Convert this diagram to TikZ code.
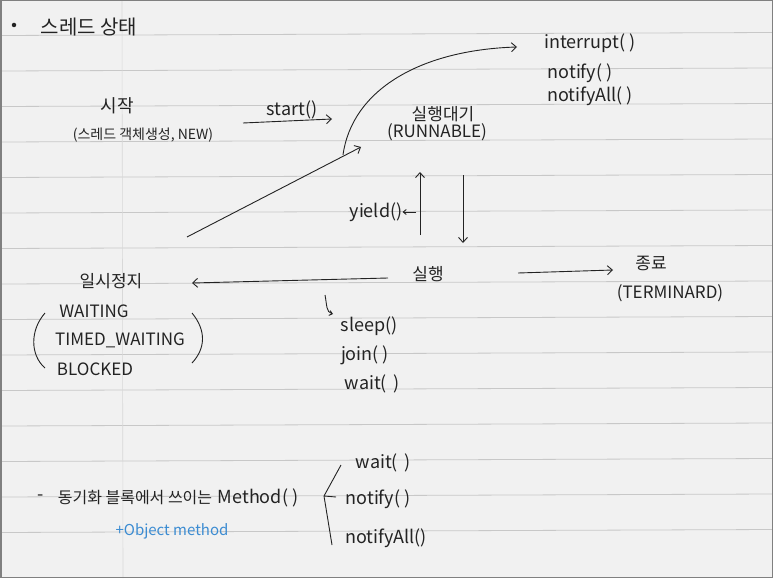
\documentclass[tikz,border=0pt]{standalone}
\usepackage{fontspec}
\setmainfont{Noto Sans CJK KR}
\usetikzlibrary{arrows.meta}
\definecolor{paper}{RGB}{241,241,241}
\definecolor{rulecol}{RGB}{200,200,200}
\definecolor{ink}{RGB}{35,35,35}
\definecolor{bluepen}{RGB}{60,140,210}
\begin{document}
\begin{tikzpicture}[x=1pt,y=-1pt,
  txt/.style={text=ink,inner sep=0pt,font=\fontsize{18}{20}\selectfont},
  caps/.style={text=ink,inner sep=0pt,font=\fontsize{17}{19}\selectfont},
  kor/.style={text=ink,inner sep=0pt,font=\fontsize{17}{19}\selectfont},
  kors/.style={text=ink,inner sep=0pt,font=\fontsize{14}{16}\selectfont},
  pen/.style={draw=ink,line width=0.9pt},
  conn/.style={pen,-{Straight Barb[length=5pt,width=9pt]}}]
\fill[paper] (0,0) rectangle (773,578);
\useasboundingbox (0,0) rectangle (773,578);
\foreach \k in {0,...,14}
  \draw[rulecol,line width=0.8pt] (0,{35.5+35.5*\k}) -- (773,{32.5+35.5*\k});
\draw[rulecol!70,line width=0.6pt] (122,0) -- (123,578);
\draw[gray,line width=1.5pt] (0.75,0.75) rectangle (772.25,577.25);

% title
\node[circle,fill=ink,inner sep=0pt,minimum size=4.5pt] (bullet) at (14,25) {};
\node[kor,font=\fontsize{20}{22}\selectfont] (title) at (89,27) {스레드 상태};

% NEW
\node[kor,font=\fontsize{18}{20}\selectfont] (start) at (117,106) {시작};
\node[kors] (new) at (143,135) {(스레드 객체생성, NEW)};
\node[txt] (startlbl) at (292,110) {start()};
\coordinate (s1) at (243,123);
\coordinate (s2) at (332,119);
\draw[conn] (s1) -- (s2);

% RUNNABLE
\node[kor] (runw) at (443,114) {실행대기};
\node[caps] (runnable) at (437,132) {(RUNNABLE)};
\node[txt] (intr) at (590,43) {interrupt( )};
\node[txt] (ntf) at (580,73) {notify( )};
\node[txt] (ntfall) at (590,96) {notifyAll( )};

% run
\node[kor] (run) at (428,274) {실행};
\node[txt] (yield) at (376,212) {yield()};
\coordinate (y1) at (416,212);
\draw[pen,-{Straight Barb[length=3pt,width=5pt]}] (y1) -- (yield.east);
\coordinate (up1) at (420,235);
\coordinate (up2) at (420,172);
\draw[conn] (up1) -- (up2);
\coordinate (dn1) at (463,175);
\coordinate (dn2) at (463,243);
\draw[conn] (dn1) -- (dn2);

% terminated
\node[kor] (term) at (651,263) {종료};
\node[caps] (termin) at (670,293) {(TERMINARD)};
\coordinate (t1) at (518,273);
\coordinate (t2) at (613,270);
\draw[conn] (t1) -- (t2);

% waiting
\node[kor] (pause) at (111,281) {일시정지};
\node[caps] (waiting) at (94,311) {WAITING};
\node[caps] (timed) at (120,340) {TIMED\_WAITING};
\node[caps] (blocked) at (95,369) {BLOCKED};
\draw[pen] (45,313) .. controls (30,330) and (30,355) .. (45,368);
\draw[pen] (192,313) .. controls (206,330) and (206,348) .. (192,363);
\coordinate (p1) at (388,278);
\coordinate (p2) at (192,283);
\draw[conn] (p1) -- (p2);
\coordinate (b1) at (187,237);
\coordinate (b2) at (361,147);
\draw[conn] (b1) -- (b2);
\coordinate (c1) at (343,155);
\coordinate (c2) at (517,47);
\draw[conn] (c1) .. controls (352,90) and (420,50) .. (c2);

% sleep
\coordinate (h1) at (325,295);
\coordinate (h2) at (333,314);
\draw[pen,-{Straight Barb[length=3pt,width=5pt]}] (h1) .. controls (327,305) and (326,312) .. (h2);
\node[txt] (sleep) at (369,326) {sleep()};
\node[txt] (join) at (365,355) {join( )};
\node[txt] (wait) at (372,384) {wait(\,\,)};

% bottom
\node[txt] (dash) at (41,498) {-};
\node[kor,font=\fontsize{16}{18}\selectfont] (sync) at (135,498) {동기화 블록에서 쓰이는};
\node[txt] (meth) at (258,498) {Method( )};
\node[text=bluepen,inner sep=0pt,font=\fontsize{15}{17}\selectfont] (obj) at (172,531) {+Object method};
\coordinate (v) at (324,496);
\coordinate (va) at (341,465);
\coordinate (vb) at (332,545);
\coordinate (vc) at (336,497);
\draw[pen] (va) -- (v) -- (vb);
\draw[pen] (v) -- (vc);
\node[txt] (bw) at (383,463) {wait(\,\,)};
\node[txt] (bn) at (378,499) {notify( )};
\node[txt] (bna) at (386,538) {notifyAll()};
\end{tikzpicture}
\end{document}
